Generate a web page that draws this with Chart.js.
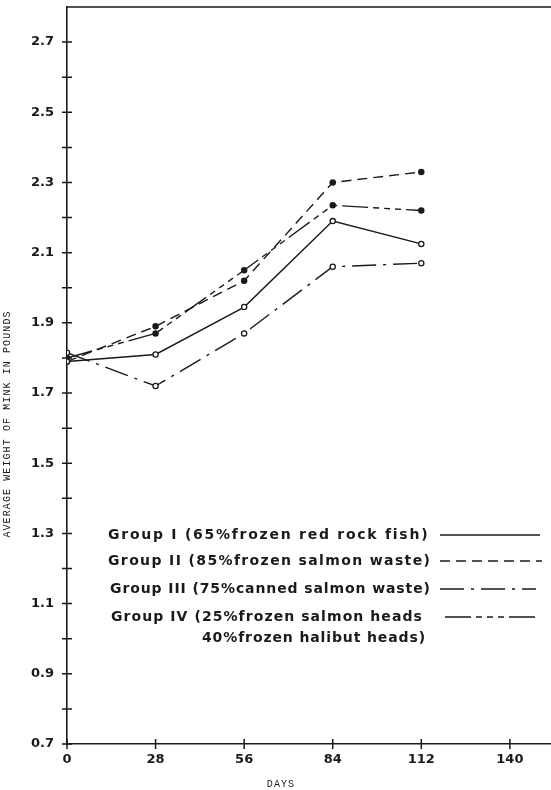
<!DOCTYPE html>
<html>
<head>
<meta charset="utf-8">
<script src="https://cdn.jsdelivr.net/npm/chart.js@4.4.1/dist/chart.umd.min.js"></script>
<style>
  html, body { margin: 0; padding: 0; background: #fff; }
  #wrap { width: 551px; height: 790px; }
</style>
</head>
<body>
<div id="wrap"><canvas id="mink" width="551" height="790"></canvas></div>
<script>
// average weight of mink (lb) on each weighing day
const days = [0, 28, 56, 84, 112];
const groupI   = [1.79, 1.81, 1.945, 2.19, 2.125];
const groupII  = [1.79, 1.89, 2.02, 2.30, 2.33];
const groupIII = [1.815, 1.72, 1.87, 2.06, 2.07];
const groupIV  = [1.80, 1.87, 2.05, 2.235, 2.22];

const xTicks = [0, 28, 56, 84, 112, 140];
const yTicks = [0.7, 0.8, 0.9, 1.0, 1.1, 1.2, 1.3, 1.4, 1.5, 1.6, 1.7, 1.8, 1.9, 2.0, 2.1, 2.2, 2.3, 2.4, 2.5, 2.6, 2.7, 2.8];
const yLabels = ['0.7', '', '0.9', '', '1.1', '', '1.3', '', '1.5', '', '1.7', '', '1.9', '', '2.1', '', '2.3', '', '2.5', '', '2.7', ''];

const legendText = [
  'Group I (65%frozen red rock fish)',
  'Group II (85%frozen salmon waste)',
  'Group III (75%canned salmon waste)',
  'Group IV (25%frozen salmon heads',
  '40%frozen halibut heads)'
];

const INK = '#1a1a1a';
const pts = arr => days.map((d, i) => ({ x: d, y: arr[i] }));

function series(label, arr, dash, hollow) {
  return {
    label: label,
    data: pts(arr),
    borderColor: INK,
    borderWidth: 1.4,
    borderDash: dash,
    tension: 0,
    fill: false,
    pointRadius: 2.6,
    pointBorderWidth: 1.3,
    pointBorderColor: INK,
    pointBackgroundColor: hollow ? '#fff' : INK
  };
}

const datasets = [
  series('Group I', groupI, [], true),
  series('Group II', groupII, [10, 6], false),
  series('Group III', groupIII, [24, 7, 3, 7], true),
  series('Group IV', groupIV, [26, 5, 6, 5, 6, 5, 6, 5], false)
];

const noPad = s => { s.paddingLeft = 0; s.paddingRight = 0; s.paddingTop = 0; s.paddingBottom = 0; };

// tick crosses, top rule, legend and axis titles
const paperBits = {
  id: 'paperBits',
  afterDraw(chart) {
    const ctx = chart.ctx;
    const a = chart.chartArea;
    const xs = chart.scales.x, ys = chart.scales.y;
    ctx.save();
    ctx.strokeStyle = INK;
    ctx.lineWidth = 1.5;
    ctx.setLineDash([]);
    ctx.beginPath();
    ctx.moveTo(a.left, a.top);
    ctx.lineTo(a.right, a.top);
    ys.ticks.forEach(t => {
      if (t.value > 2.75) return;
      const py = ys.getPixelForValue(t.value);
      ctx.moveTo(a.left - 5, py);
      ctx.lineTo(a.left + 5, py);
    });
    xs.ticks.forEach(t => {
      const px = xs.getPixelForValue(t.value);
      ctx.moveTo(px, a.bottom - 5);
      ctx.lineTo(px, a.bottom + 5);
    });
    ctx.stroke();

    // legend, each line stretched to its width on the sheet
    ctx.fillStyle = INK;
    ctx.font = 'bold 14px "DejaVu Sans"';
    ctx.textBaseline = 'middle';
    ctx.textAlign = 'left';
    const rows = [[108, 427, 535], [108, 430, 561], [110, 430, 589], [111, 422, 617], [202, 425, 638]];
    legendText.forEach((s, i) => {
      ctx.letterSpacing = '0px';
      const w = ctx.measureText(s).width;
      const sp = Math.max(0, (rows[i][1] - rows[i][0] - w) / (s.length - 1));
      ctx.letterSpacing = sp.toFixed(2) + 'px';
      ctx.fillText(s, rows[i][0], rows[i][2]);
    });
    ctx.letterSpacing = '0px';

    const samples = [[440, 540, 535], [440, 542, 561], [440, 536, 589], [445, 540, 617]];
    ctx.lineWidth = 1.4;
    datasets.forEach((d, i) => {
      const s = samples[i];
      ctx.setLineDash(d.borderDash);
      ctx.beginPath();
      ctx.moveTo(s[0], s[2]);
      ctx.lineTo(s[1], s[2]);
      ctx.stroke();
    });
    ctx.setLineDash([]);

    // axis titles
    ctx.font = '10px "Liberation Mono"';
    ctx.letterSpacing = '1.1px';
    ctx.textAlign = 'center';
    ctx.fillText('DAYS', 281, 784);
    ctx.translate(7, 424);
    ctx.rotate(-Math.PI / 2);
    ctx.fillText('AVERAGE WEIGHT OF MINK IN POUNDS', 0, 0);
    ctx.restore();
  }
};

new Chart(document.getElementById('mink'), {
  type: 'line',
  data: { datasets: datasets },
  plugins: [paperBits],
  options: {
    responsive: false,
    animation: false,
    devicePixelRatio: 1,
    layout: { autoPadding: false, padding: { top: 7, right: 0, left: 0, bottom: 0 } },
    plugins: { legend: { display: false }, tooltip: { enabled: false } },
    scales: {
      x: {
        type: 'linear',
        min: 0,
        max: 153,
        afterBuildTicks: s => { s.ticks = xTicks.map(v => ({ value: v })); },
        afterFit: s => { s.height = 46; noPad(s); },
        grid: { display: false },
        border: { display: true, color: INK, width: 1.6 },
        ticks: {
          autoSkip: false,
          maxRotation: 0,
          padding: 0,
          color: INK,
          font: { family: '"DejaVu Sans"', size: 13, weight: 'bold' },
          callback: v => String(v)
        }
      },
      y: {
        min: 0.7,
        max: 2.8,
        afterBuildTicks: s => { s.ticks = yTicks.map(v => ({ value: v })); },
        afterFit: s => { s.width = 67; noPad(s); },
        grid: { display: false },
        border: { display: true, color: INK, width: 1.6 },
        ticks: {
          autoSkip: false,
          padding: 5,
          color: INK,
          font: { family: '"DejaVu Sans"', size: 13, weight: 'bold' },
          callback: (v, i) => yLabels[i]
        }
      }
    }
  }
});
</script>
</body>
</html>
